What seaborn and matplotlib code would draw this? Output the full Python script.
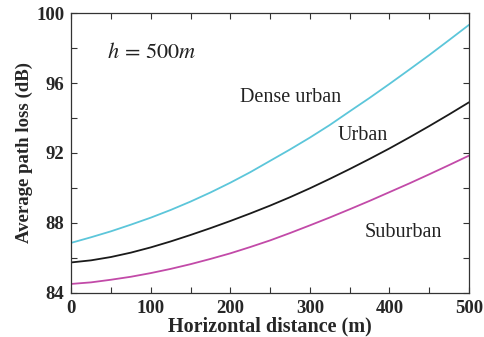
import numpy as np
import pandas as pd
import matplotlib
matplotlib.use("Agg")
import matplotlib.pyplot as plt
from matplotlib.ticker import MultipleLocator
import seaborn as sns

# values (h = 500 m), every 25 m
distance = [0, 25, 50, 75, 100, 125, 150, 175, 200, 225, 250,
            275, 300, 325, 350, 375, 400, 425, 450, 475, 500]
dense_urban = [86.86, 87.18, 87.52, 87.90, 88.30, 88.74, 89.22, 89.74, 90.30, 90.90, 91.55,
               92.20, 92.88, 93.60, 94.38, 95.15, 95.95, 96.77, 97.60, 98.46, 99.33]
urban = [85.74, 85.86, 86.05, 86.30, 86.60, 86.94, 87.31, 87.70, 88.11, 88.54, 88.99,
         89.47, 89.98, 90.52, 91.08, 91.66, 92.26, 92.89, 93.54, 94.21, 94.90]
suburban = [84.51, 84.60, 84.75, 84.92, 85.13, 85.37, 85.64, 85.94, 86.26, 86.62, 87.00,
            87.42, 87.86, 88.31, 88.78, 89.26, 89.76, 90.26, 90.78, 91.31, 91.85]

env_names = ["Dense urban", "Urban", "Suburban"]
env_colors = ["#5cc6da", "#1a1a1a", "#c24aa8"]

df = pd.DataFrame({
    "distance": distance * 3,
    "loss": dense_urban + urban + suburban,
    "env": sum([[n] * len(distance) for n in env_names], []),
})

sns.set_style("ticks")
plt.rcParams["font.family"] = ["Liberation Serif", "DejaVu Serif"]
plt.rcParams["mathtext.fontset"] = "stix"

fig = plt.figure(figsize=(4.84, 3.37), dpi=100)
ax = fig.add_axes([0.147, 0.131, 0.822, 0.830])

sns.lineplot(data=df, x="distance", y="loss", hue="env", hue_order=env_names,
             palette=env_colors, linewidth=1.3, legend=False, ax=ax)

ax.set_xlim(0, 500)
ax.set_ylim(84, 100)
ax.xaxis.set_major_locator(MultipleLocator(100))
ax.xaxis.set_minor_locator(MultipleLocator(50))
ax.yaxis.set_major_locator(MultipleLocator(4))
ax.yaxis.set_minor_locator(MultipleLocator(2))
ax.tick_params(which="both", direction="in", top=True, right=True,
               length=4, width=0.8, color="#333333")
ax.tick_params(axis="x", which="major", labelsize=13.5, pad=5)
ax.tick_params(axis="y", which="major", labelsize=13.5, pad=5)
for lbl in ax.get_xticklabels() + ax.get_yticklabels():
    lbl.set_fontweight("bold")
for sp in ax.spines.values():
    sp.set_color("#333333")
    sp.set_linewidth(0.9)

ax.set_xlabel("Horizontal distance (m)", fontsize=14.5, fontweight="bold", labelpad=0)
ax.set_ylabel("Average path loss (dB)", fontsize=13.5, fontweight="bold", labelpad=2)

ax.text(45, 97.7, r"$h\,=\,500m$", fontsize=16, ha="left", va="center", color="#222222")
ax.text(276, 95.2, "Dense urban", fontsize=14.5, ha="center", va="center", color="#222222")
ax.text(366, 93.0, "Urban", fontsize=14.5, ha="center", va="center", color="#222222")
ax.text(417, 87.45, "Suburban", fontsize=14.5, ha="center", va="center", color="#222222")

fig.savefig("out.png", dpi=100)
